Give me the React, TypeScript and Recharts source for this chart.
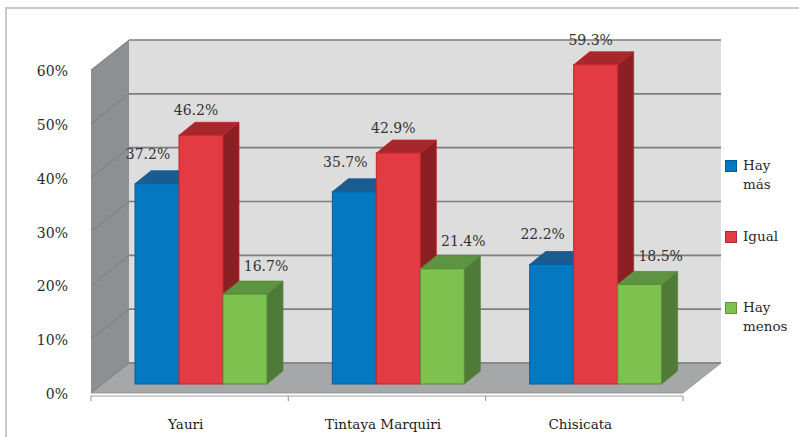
import React from "react";
import { BarChart, Bar, XAxis, YAxis, CartesianGrid, ReferenceArea, LabelList, Legend } from "recharts";

const lugares = ["Yauri", "Tintaya Marquiri", "Chisicata"];
const hayMas = [37.2, 35.7, 22.2];
const igual = [46.2, 42.9, 59.3];
const hayMenos = [16.7, 21.4, 18.5];
const yTicks = [0, 10, 20, 30, 40, 50, 60];
const series = [
  { key: "hayMas", nombre: "Hay más" },
  { key: "igual", nombre: "Igual" },
  { key: "hayMenos", nombre: "Hay menos" },
];

const data = lugares.map((lugar, i) => ({
  lugar,
  hayMas: hayMas[i],
  igual: igual[i],
  hayMenos: hayMenos[i],
}));

const FUENTE = "'DejaVu Serif', serif";

// profundidad de las barras
const DX = 16;
const DY = 13;
// las paredes: hacia adelante y hacia el fondo desde el plano de las barras
const FDX = 11;
const FDY = 9;
const BDX = 27;
const BDY = 21;

const colores: any = {
  hayMas: { front: "#0479C1", top: "#1A5C8F", side: "#0E5A93", edge: "#0B5E9E", label: -9, up: 12 },
  igual: { front: "#E33B43", top: "#A8272D", side: "#8C1F24", edge: "#C0272D", label: -5, up: 7 },
  hayMenos: { front: "#7DC24E", top: "#5E9341", side: "#4F7A37", edge: "#558B37", label: 21, up: 10 },
};

const Caja = (c: any) => (props: any) => {
  const { x, y, width, height } = props;
  if (!height || height <= 0) return null;
  const r = x + width;
  const b = y + height;
  return (
    <g>
      <polygon
        points={`${x},${y} ${x + DX},${y - DY} ${r + DX},${y - DY} ${r},${y}`}
        fill={c.top}
        stroke={c.edge}
        strokeWidth={0.8}
      />
      <polygon
        points={`${r},${y} ${r + DX},${y - DY} ${r + DX},${b - DY} ${r},${b}`}
        fill={c.side}
        stroke={c.edge}
        strokeWidth={0.8}
      />
      <rect x={x} y={y} width={width} height={height} fill={c.front} stroke={c.edge} strokeWidth={1} />
    </g>
  );
};

const Etiqueta = (c: any) => (props: any) => {
  const { x, y, width, value } = props;
  return (
    <text
      x={x + width / 2 + c.label}
      y={y - DY - c.up}
      textAnchor="middle"
      fontFamily={FUENTE}
      fontSize={14}
      fill="#333"
    >
      {Number(value).toFixed(1)}%
    </text>
  );
};

// paredes y piso del grafico 3D
const Marco = (props: any) => {
  const { x, y, width, height } = props;
  const r = x + width;
  const b = y + height;
  const ejeY = b + FDY + 3;
  const cortes = [0, 1, 2, 3].map((i) => x - FDX + (i * width) / 3);
  return (
    <g>
      <rect x={x + BDX} y={y - BDY} width={width} height={height} fill="#DEDDDD" />
      <polygon
        points={`${x - FDX},${y + FDY} ${x + BDX},${y - BDY} ${x + BDX},${b - BDY} ${x - FDX},${b + FDY}`}
        fill="#8D9092"
      />
      <polygon
        points={`${x - FDX},${b + FDY} ${x + BDX},${b - BDY} ${r + BDX},${b - BDY} ${r - FDX},${b + FDY}`}
        fill="#A5A7A8"
        stroke="#8E9091"
        strokeWidth={0.8}
      />
      <line x1={x - FDX} y1={ejeY} x2={r - FDX} y2={ejeY} stroke="#A0A0A0" strokeWidth={1.2} />
      {cortes.map((cx, i) => (
        <line key={i} x1={cx} y1={ejeY} x2={cx} y2={ejeY + 5} stroke="#A0A0A0" strokeWidth={1.2} />
      ))}
    </g>
  );
};

const lineaGuia = (props: any) => {
  const { x1, x2, y1, key } = props;
  return (
    <g key={key}>
      <line x1={x1 - FDX} y1={y1 + FDY} x2={x1 + BDX} y2={y1 - BDY} stroke="#7B7E80" strokeWidth={1} />
      <line x1={x1 + BDX} y1={y1 - BDY} x2={x2 + BDX} y2={y1 - BDY} stroke="#7E7E7E" strokeWidth={1.7} />
    </g>
  );
};

const TickY = ({ x, y, payload }: any) => (
  <text x={x - 26} y={y + 15} textAnchor="end" fontFamily={FUENTE} fontSize={14} fill="#2a2a2a">
    {payload.value}%
  </text>
);

const TickX = ({ x, y, payload }: any) => (
  <text x={x - 15} y={y + 37} textAnchor="middle" fontFamily={FUENTE} fontSize={13.5} fill="#1a1a1a">
    {payload.value}
  </text>
);

const Leyenda = () => (
  <div style={{ fontFamily: FUENTE, fontSize: 13.5, color: "#2a2a2a" }}>
    {series.map((s) => (
      <div key={s.key} style={{ display: "flex", alignItems: "flex-start", height: 71 }}>
        <span
          style={{
            display: "inline-block",
            width: 10,
            height: 10,
            marginTop: 4,
            marginRight: 6,
            background: colores[s.key].front,
            border: "1px solid rgba(0,0,0,0.25)",
          }}
        />
        <span style={{ width: 52, lineHeight: "19px" }}>{s.nombre}</span>
      </div>
    ))}
  </div>
);

export default function App() {
  return (
    <div style={{ position: "absolute", left: 0, top: 0, width: 799, height: 437, background: "#fff", overflow: "hidden" }}>
      <div
        style={{
          position: "absolute",
          left: 5,
          top: 7,
          width: 830,
          height: 470,
          border: "2px solid #C9C9C9",
        }}
      />
      <BarChart
        width={799}
        height={437}
        data={data}
        margin={{ top: 61, right: 105, bottom: 23, left: 42 }}
        barSize={44}
        barGap={0}
        style={{ position: "absolute", left: 0, top: 0 }}
      >
        <ReferenceArea y1={0} y2={60} shape={Marco} zIndex={-200} />
        <CartesianGrid vertical={false} horizontal={lineaGuia} />
        <XAxis dataKey="lugar" height={30} axisLine={false} tickLine={false} tick={<TickX />} interval={0} />
        <YAxis
          domain={[0, 60]}
          ticks={yTicks}
          width={60}
          axisLine={false}
          tickLine={false}
          tick={<TickY />}
          interval={0}
        />
        <Legend
          layout="vertical"
          align="center"
          verticalAlign="middle"
          content={<Leyenda />}
          wrapperStyle={{ left: 725, top: 156, width: 74 }}
        />
        {series.map((s) => (
          <Bar
            key={s.key}
            dataKey={s.key}
            name={s.nombre}
            fill={colores[s.key].front}
            shape={Caja(colores[s.key])}
            isAnimationActive={false}
          >
            <LabelList dataKey={s.key} content={Etiqueta(colores[s.key])} />
          </Bar>
        ))}
      </BarChart>
    </div>
  );
}
